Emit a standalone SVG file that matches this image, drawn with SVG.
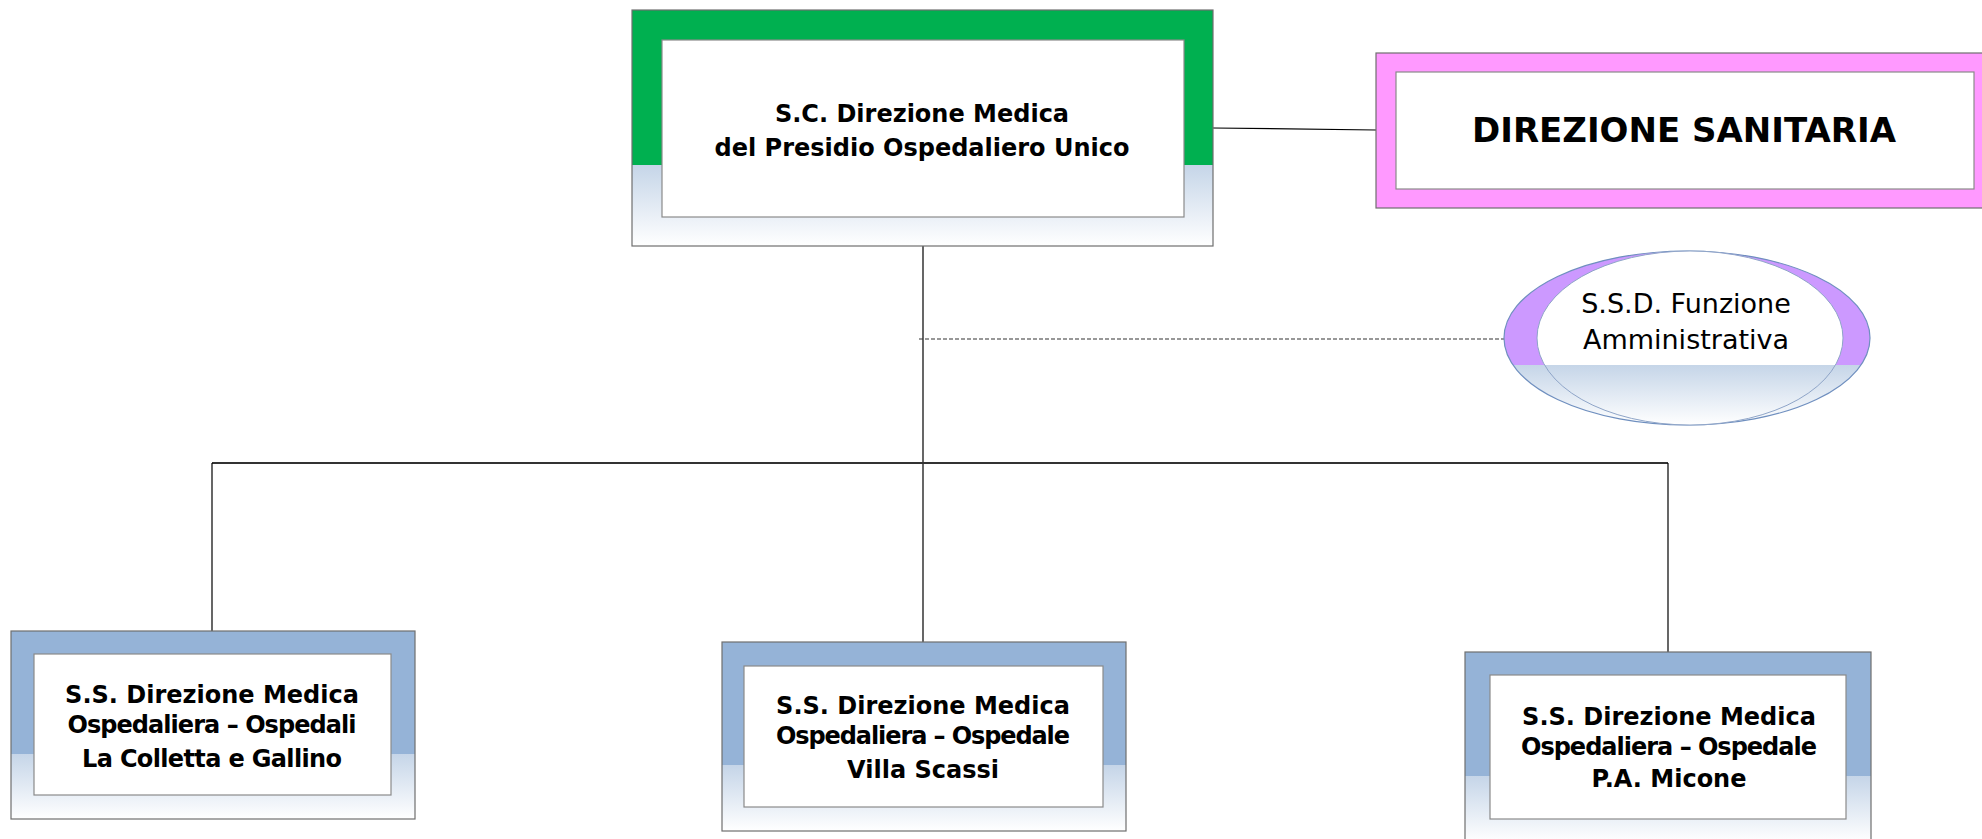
<svg xmlns="http://www.w3.org/2000/svg" width="1982" height="839" viewBox="0 0 1982 839">
<style>
.outer{stroke:#6f6f6f;stroke-width:1.2}
.inner{fill:#ffffff;stroke:#8a8a8a;stroke-width:1.2}
.b{font-family:"DejaVu Sans","Liberation Sans",sans-serif;font-weight:bold;font-size:24px;fill:#000;text-anchor:middle}
.r{font-family:"DejaVu Sans","Liberation Sans",sans-serif;font-size:27px;fill:#000;text-anchor:middle}
.ln{stroke:#000;stroke-width:1.2;fill:none}
</style>
<defs>
<linearGradient id="gGreen" x1="0" y1="0" x2="0" y2="1">
<stop offset="0" stop-color="#00b050"/><stop offset="0.655" stop-color="#00b050"/>
<stop offset="0.655" stop-color="#c5d5e8"/><stop offset="1" stop-color="#ffffff"/>
</linearGradient>
<linearGradient id="gBlue" x1="0" y1="0" x2="0" y2="1">
<stop offset="0" stop-color="#95b3d7"/><stop offset="0.652" stop-color="#95b3d7"/>
<stop offset="0.652" stop-color="#c5d5e8"/><stop offset="1" stop-color="#ffffff"/>
</linearGradient>
<linearGradient id="gPurple" x1="0" y1="0" x2="0" y2="1">
<stop offset="0" stop-color="#cc99ff"/><stop offset="0.654" stop-color="#cc99ff"/>
<stop offset="0.654" stop-color="#c5d5e8"/><stop offset="1" stop-color="#ffffff"/>
</linearGradient>
<linearGradient id="gWhite" x1="0" y1="0" x2="0" y2="1">
<stop offset="0" stop-color="#ffffff"/><stop offset="0.654" stop-color="#ffffff"/>
<stop offset="0.654" stop-color="#c5d5e8"/><stop offset="1" stop-color="#ffffff"/>
</linearGradient>
</defs>

<g id="connectors">
<line class="ln" x1="1213" y1="128" x2="1376" y2="130" stroke="#404040"/>
<line class="ln" x1="923" y1="246" x2="923" y2="642"/>
<line x1="919" y1="339" x2="1504" y2="339" stroke="#333" stroke-width="1.2" stroke-dasharray="4,2"/>
<line x1="212" y1="463" x2="1668" y2="463" stroke="#333" stroke-width="2"/>
<line class="ln" x1="212" y1="463" x2="212" y2="631"/>
<line class="ln" x1="1668" y1="463" x2="1668" y2="652"/>
</g>

<g id="node-direzione-medica">
<rect class="outer" x="632" y="10" width="581" height="236" fill="url(#gGreen)" stroke="#404040"/>
<rect class="inner" x="662" y="40" width="522" height="177"/>
<text class="b" x="922" y="122">S.C. Direzione Medica</text>
<text class="b" x="922" y="156">del Presidio Ospedaliero Unico</text>
</g>

<g id="node-direzione-sanitaria">
<rect class="outer" x="1376" y="53" width="612" height="155" fill="#ff99ff" stroke="#8a6a8a"/>
<rect class="inner" x="1396" y="72" width="578" height="117"/>
<text class="b" x="1684" y="142" style="font-size:34px">DIREZIONE SANITARIA</text>
</g>

<g id="node-funzione-amministrativa">
<ellipse cx="1687" cy="338" rx="183" ry="87" fill="url(#gPurple)" stroke="#6f8fbf" stroke-width="1.2"/>
<ellipse cx="1690" cy="338" rx="153" ry="87" fill="url(#gWhite)" stroke="#8fa5c8" stroke-width="1"/>
<text class="r" x="1686" y="313">S.S.D. Funzione</text>
<text class="r" x="1686" y="349">Amministrativa</text>
</g>

<g id="node-colletta-gallino">
<rect class="outer" x="11" y="631" width="404" height="188" fill="url(#gBlue)"/>
<rect class="inner" x="34" y="654" width="357" height="141"/>
<text class="b" x="212" y="703">S.S. Direzione Medica</text>
<text class="b" x="212" y="733" textLength="289" lengthAdjust="spacing">Ospedaliera – Ospedali</text>
<text class="b" x="212" y="767" textLength="260" lengthAdjust="spacing">La Colletta e Gallino</text>
</g>

<g id="node-villa-scassi">
<rect class="outer" x="722" y="642" width="404" height="189" fill="url(#gBlue)"/>
<rect class="inner" x="744" y="666" width="359" height="141"/>
<text class="b" x="923" y="714">S.S. Direzione Medica</text>
<text class="b" x="923" y="744" textLength="294" lengthAdjust="spacing">Ospedaliera – Ospedale</text>
<text class="b" x="923" y="778">Villa Scassi</text>
</g>

<g id="node-micone">
<rect class="outer" x="1465" y="652" width="406" height="190" fill="url(#gBlue)"/>
<rect class="inner" x="1490" y="675" width="356" height="144"/>
<text class="b" x="1669" y="725">S.S. Direzione Medica</text>
<text class="b" x="1669" y="755" textLength="296" lengthAdjust="spacing">Ospedaliera – Ospedale</text>
<text class="b" x="1669" y="787">P.A. Micone</text>
</g>
</svg>
